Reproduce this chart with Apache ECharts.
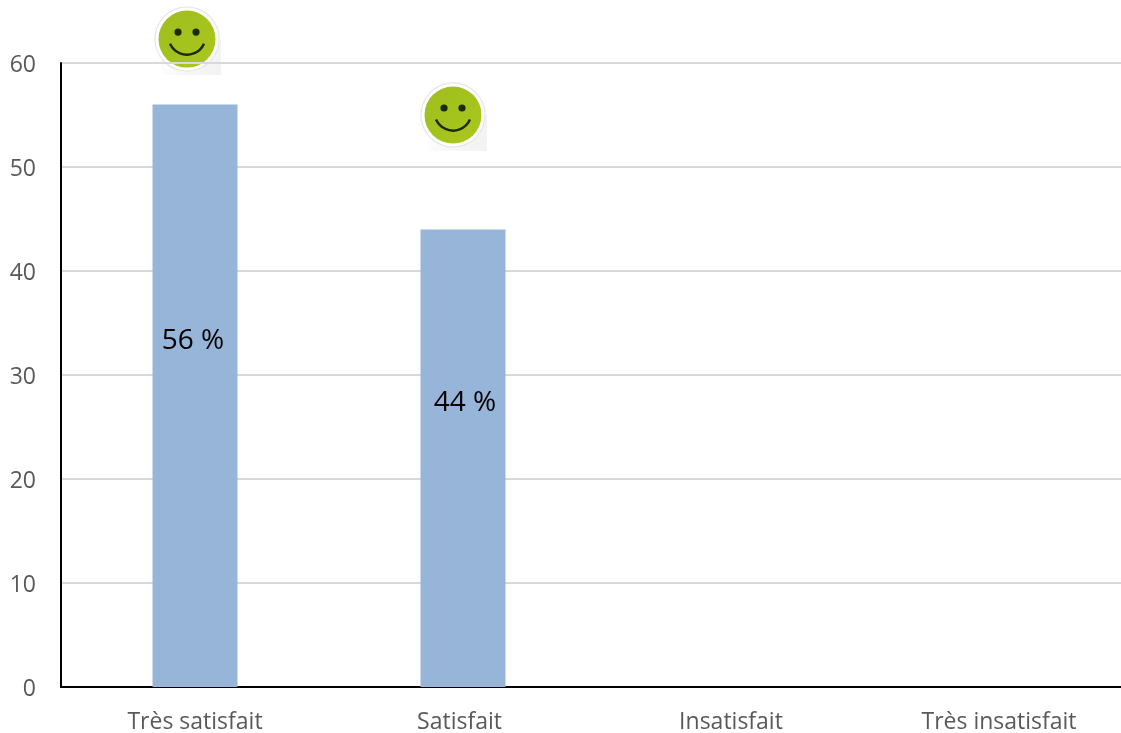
<!DOCTYPE html>
<html><head><meta charset="utf-8">
<style>html,body{margin:0;padding:0;background:#fff;overflow:hidden}#c{width:1121px;height:733px}</style>
<script src="https://cdn.jsdelivr.net/npm/echarts@6/dist/echarts.min.js"></script>
</head><body><div id="c"></div>
<script>
const categories = ['Très satisfait','Satisfait','Insatisfait','Très insatisfait'];
const percentValues = [56,44,null,null];
const percentLabels = ['56 %','44 %','',''];
const smileyLevels = [62.3,55];
const smileyShift = [-8,-10];
const labelOffsets = [[-2,-55],[2,-55]];
const font = 'Open Sans';
const chart = echarts.init(document.getElementById('c'),null,{renderer:'canvas'});
function smiley(params, api){
  const p = api.coord([api.value(0), api.value(1)]);
  const x = p[0]+smileyShift[params.dataIndex], y = p[1];
  const ink = '#1c2a08';
  return {type:'group', children:[
    {type:'rect', shape:{x:x-25,y:y,width:59,height:36}, style:{fill:new echarts.graphic.LinearGradient(0,0,1,0.6,[{offset:0,color:'#ffffff'},{offset:0.6,color:'#f6f6f6'},{offset:1,color:'#f3f3f3'}])}},
    {type:'circle', shape:{cx:x,cy:y,r:32.7}, style:{fill:'#e6e6e6'}},
    {type:'circle', shape:{cx:x,cy:y,r:31.5}, style:{fill:'#ffffff'}},
    {type:'circle', shape:{cx:x,cy:y,r:28.5}, style:{fill:new echarts.graphic.LinearGradient(0,0,1,1,[{offset:0,color:'#9fbd1e'},{offset:1,color:'#aac81c'}])}},
    {type:'circle', shape:{cx:x-9,cy:y-7,r:3.6}, style:{fill:ink}},
    {type:'circle', shape:{cx:x+9,cy:y-7,r:3.6}, style:{fill:ink}},
    {type:'arc', shape:{cx:x,cy:y-3,r:18.6,startAngle:0.42,endAngle:Math.PI-0.42}, style:{fill:null,stroke:ink,lineWidth:2.5}}
  ]};
}
chart.setOption({
  animation:false,
  grid:{left:61,top:63,width:1072,height:624,outerBoundsMode:'none'},
  xAxis:{type:'category',
    data:categories.map((c,i)=>i===1?{value:c,textStyle:{padding:[0,7,0,0]}}:c),
    axisLine:{show:true,lineStyle:{color:'#000',width:2}},
    axisTick:{show:false},
    axisLabel:{color:'#595959',fontFamily:font,fontSize:23,margin:24,interval:0}},
  yAxis:{type:'value',min:0,max:60,interval:10,
    axisLine:{show:true,lineStyle:{color:'#000',width:2}},
    axisTick:{show:false},
    axisLabel:{color:'#595959',fontFamily:font,fontSize:23,margin:25,verticalAlign:'top',lineHeight:4},
    splitLine:{show:true,lineStyle:{color:'#d9d9d9',width:2}}},
  series:[
    {type:'bar',barWidth:85,itemStyle:{color:'#97b4d9'},
     data:percentValues.map((v,i)=>({value:v,label:{show:v!=null,formatter:percentLabels[i],position:'inside',offset:labelOffsets[i]||[0,0],color:'#000',fontFamily:font,fontSize:28}}))},
    {type:'custom',z:-1,clip:false,silent:true,renderItem:smiley,
     encode:{x:0,y:1},data:smileyLevels.map((v,i)=>[i,v])}
  ]
});
</script></body></html>
